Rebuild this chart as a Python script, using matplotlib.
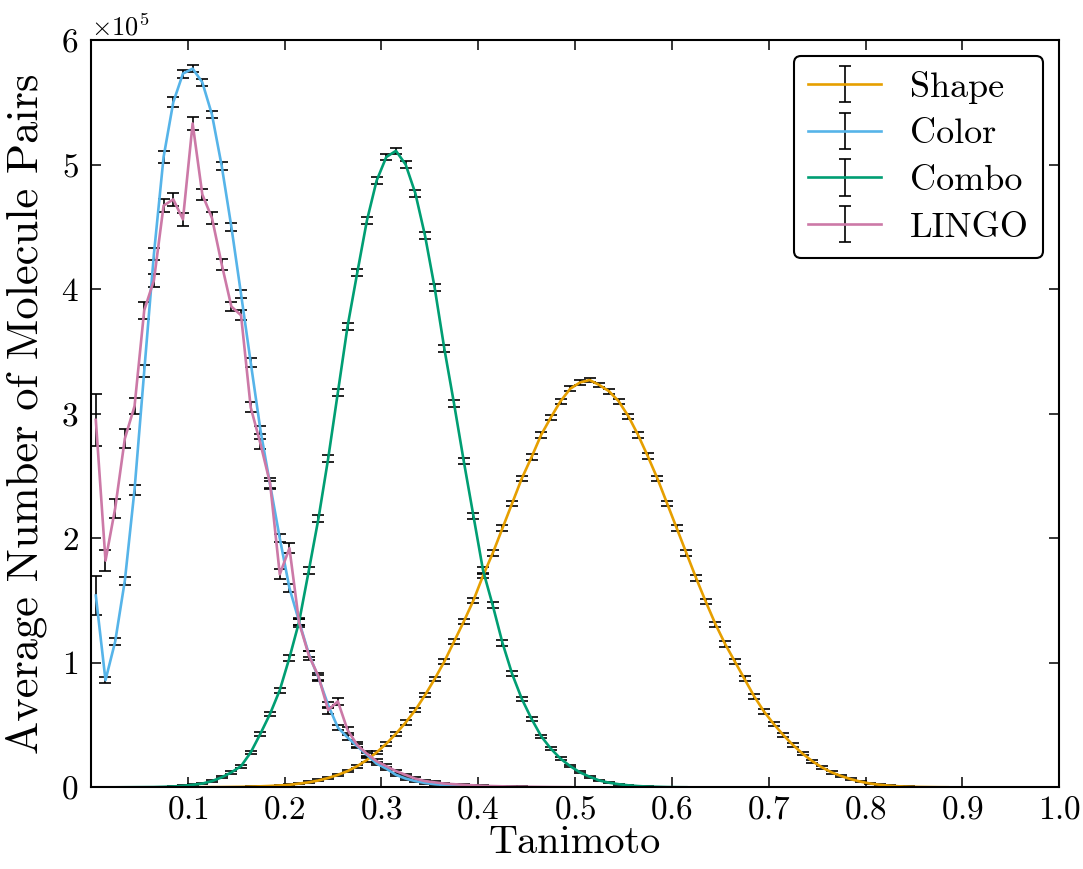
import numpy as np
import matplotlib
matplotlib.use("Agg")
import matplotlib.pyplot as plt

# bins of width 0.01 on the Tanimoto axis, values in units of 1e5 pairs
bin_width = 0.01
scale = 1e5

shape = [0, 0, 0, 0, 0, 0, 0, 0, 0, 0,
         0.0005, 0.001, 0.0015, 0.002, 0.003, 0.004, 0.006, 0.008, 0.011, 0.015,
         0.02, 0.03, 0.04, 0.055, 0.075, 0.10, 0.13, 0.17, 0.22, 0.28,
         0.35, 0.43, 0.52, 0.62, 0.74, 0.87, 1.01, 1.17, 1.33, 1.50,
         1.70, 1.88, 2.08, 2.28, 2.48, 2.65, 2.83, 2.97, 3.10, 3.20,
         3.25, 3.27, 3.23, 3.18, 3.10, 2.98, 2.83, 2.66, 2.48, 2.28,
         2.08, 1.88, 1.68, 1.49, 1.31, 1.15, 1.01, 0.87, 0.73, 0.61,
         0.51, 0.42, 0.34, 0.27, 0.21, 0.16, 0.12, 0.09, 0.065, 0.045,
         0.03, 0.02, 0.013, 0.008, 0.005, 0.003, 0.002, 0.001, 0.0005]
shape_err = [0, 0, 0, 0, 0, 0, 0, 0, 0, 0,
             0.001, 0.001, 0.001, 0.001, 0.002, 0.002, 0.002, 0.003, 0.003, 0.004,
             0.005, 0.006, 0.007, 0.008, 0.009, 0.01, 0.011, 0.012, 0.013, 0.014,
             0.015, 0.016, 0.017, 0.018, 0.018, 0.019, 0.02, 0.02, 0.021, 0.021,
             0.022, 0.022, 0.022, 0.022, 0.022, 0.022, 0.022, 0.021, 0.02, 0.02,
             0.019, 0.019, 0.019, 0.02, 0.02, 0.021, 0.022, 0.022, 0.022, 0.022,
             0.022, 0.022, 0.022, 0.022, 0.021, 0.021, 0.02, 0.02, 0.019, 0.018,
             0.017, 0.016, 0.015, 0.013, 0.012, 0.011, 0.01, 0.008, 0.007, 0.006,
             0.005, 0.004, 0.003, 0.002, 0.002, 0.001, 0.001, 0.001, 0.001]

color = [1.54, 0.86, 1.17, 1.66, 2.39, 3.34, 4.28, 5.06, 5.50, 5.73,
         5.77, 5.66, 5.40, 4.99, 4.50, 3.96, 3.41, 2.87, 2.43, 2.00,
         1.60, 1.33, 1.07, 0.88, 0.66, 0.48, 0.40, 0.33, 0.26, 0.19,
         0.15, 0.10, 0.07, 0.05, 0.035, 0.025, 0.018, 0.012, 0.008, 0.005,
         0.003, 0.002, 0.001, 0.0005]
color_err = [0.155, 0.025, 0.028, 0.032, 0.04, 0.047, 0.05, 0.045, 0.04, 0.032,
             0.028, 0.027, 0.03, 0.03, 0.033, 0.031, 0.033, 0.033, 0.032, 0.03,
             0.03, 0.026, 0.025, 0.024, 0.022, 0.02, 0.018, 0.016, 0.014, 0.012,
             0.01, 0.009, 0.008, 0.007, 0.006, 0.005, 0.004, 0.003, 0.002, 0.002,
             0.001, 0.001, 0.001, 0.001]

combo = [0, 0, 0, 0.0005, 0.001, 0.0015, 0.002, 0.004, 0.007, 0.012,
         0.02, 0.03, 0.05, 0.08, 0.12, 0.17, 0.28, 0.43, 0.59, 0.78,
         1.04, 1.33, 1.74, 2.16, 2.64, 3.17, 3.70, 4.13, 4.55, 4.87,
         5.06, 5.11, 5.00, 4.77, 4.43, 4.01, 3.52, 3.08, 2.62, 2.18,
         1.74, 1.46, 1.16, 0.91, 0.71, 0.55, 0.41, 0.31, 0.23, 0.17,
         0.12, 0.085, 0.055, 0.037, 0.025, 0.016, 0.01, 0.006, 0.004, 0.002,
         0.001, 0.0005]
combo_err = [0, 0, 0, 0.001, 0.001, 0.001, 0.001, 0.002, 0.002, 0.003,
             0.004, 0.005, 0.006, 0.008, 0.01, 0.012, 0.014, 0.016, 0.018, 0.02,
             0.022, 0.024, 0.025, 0.026, 0.027, 0.028, 0.028, 0.028, 0.028, 0.027,
             0.026, 0.025, 0.026, 0.027, 0.028, 0.028, 0.028, 0.028, 0.027, 0.026,
             0.025, 0.024, 0.022, 0.02, 0.018, 0.016, 0.014, 0.012, 0.01, 0.009,
             0.008, 0.007, 0.006, 0.005, 0.004, 0.003, 0.002, 0.002, 0.001, 0.001,
             0.001, 0.001]

lingo = [2.95, 1.82, 2.24, 2.80, 3.06, 3.83, 4.07, 4.67, 4.72, 4.56,
         5.33, 4.76, 4.57, 4.20, 3.86, 3.79, 3.05, 2.76, 2.44, 1.71,
         1.92, 1.32, 1.06, 0.89, 0.62, 0.69, 0.46, 0.34, 0.27, 0.21,
         0.17, 0.13, 0.10, 0.07, 0.05, 0.04, 0.03, 0.025, 0.02, 0.016,
         0.012, 0.01, 0.008, 0.006, 0.005, 0.004, 0.003, 0.002, 0.0015, 0.001]
lingo_err = [0.21, 0.085, 0.075, 0.075, 0.065, 0.07, 0.055, 0.05, 0.05, 0.05,
             0.055, 0.045, 0.045, 0.045, 0.038, 0.04, 0.04, 0.04, 0.04, 0.04,
             0.04, 0.035, 0.035, 0.03, 0.028, 0.028, 0.024, 0.02, 0.018, 0.016,
             0.014, 0.012, 0.01, 0.009, 0.008, 0.007, 0.006, 0.005, 0.004, 0.004,
             0.003, 0.003, 0.002, 0.002, 0.002, 0.001, 0.001, 0.001, 0.001, 0.001]

series = [
    ("Shape", shape, shape_err, "#E69F00"),
    ("Color", color, color_err, "#56B4E9"),
    ("Combo", combo, combo_err, "#009E73"),
    ("LINGO", lingo, lingo_err, "#CC79A7"),
]

plt.rcParams["font.family"] = "serif"
plt.rcParams["font.serif"] = ["cmr10", "DejaVu Serif"]
plt.rcParams["mathtext.fontset"] = "cm"
plt.rcParams["axes.formatter.use_mathtext"] = True

fig = plt.figure(figsize=(10.83, 8.69), dpi=100)
ax = fig.add_axes([0.084, 0.094, 0.894, 0.86])

for nome, valores, erros, cor in series:
    y = np.array(valores) * scale
    e = np.array(erros) * scale
    x = bin_width / 2 + bin_width * np.arange(len(y))
    ax.errorbar(x, y, yerr=e, color=cor, lw=1.9, ecolor="k",
                elinewidth=1.2, capsize=4, capthick=1.2, label=nome)

ax.set_xlim(0, 1.0)
ax.set_ylim(0, 6e5)
ax.set_xticks(np.arange(1, 11) / 10)
ax.set_yticks(np.arange(0, 7) * scale)
ax.ticklabel_format(axis="y", style="sci", scilimits=(0, 0))
ax.yaxis.get_offset_text().set_fontsize(19)

ax.tick_params(direction="in", top=True, right=True, length=7, width=1.1,
               labelsize=24, pad=6)
ax.tick_params(axis="y", pad=9)
for s in ax.spines.values():
    s.set_linewidth(1.5)

ax.set_xlabel("Tanimoto", fontsize=29, labelpad=0)
ax.set_ylabel("Average Number of Molecule Pairs", fontsize=32, labelpad=10)

leg = ax.legend(loc="upper right", fontsize=26, labelspacing=0.4,
                handlelength=2.0, borderaxespad=0.45, fancybox=True)
leg.get_frame().set_edgecolor("black")
leg.get_frame().set_linewidth(1.5)
leg.get_frame().set_alpha(1)

fig.savefig("out.png", dpi=100)
